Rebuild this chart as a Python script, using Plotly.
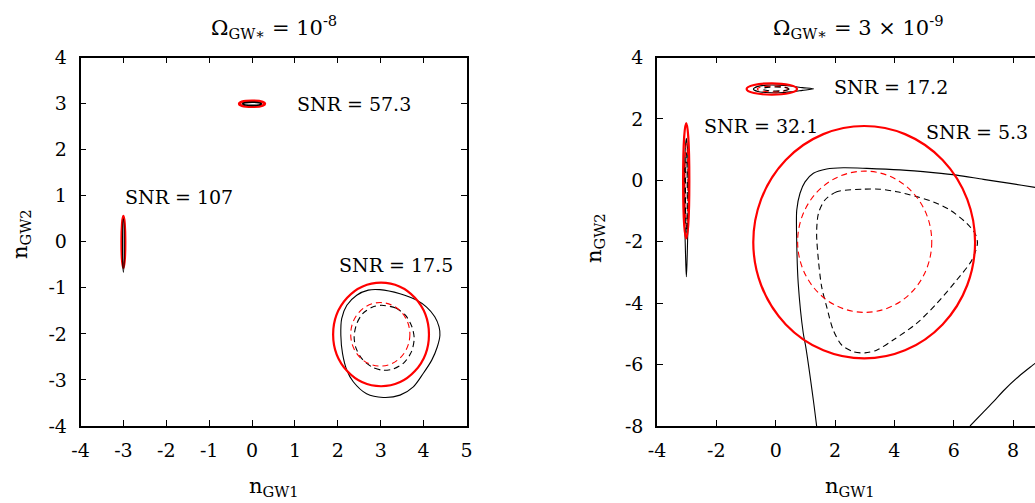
import plotly.graph_objects as go

FONT = "DejaVu Serif"
FS = 19
FS_TITLE = 21
RED = "#ff0000"
BLACK = "#000000"

# ---------------- left panel: Omega_GW* = 1e-8 ----------------
# elliptical contours, bounding boxes [x0, x1, y0, y1]
l_a_red = [-3.045, -2.955, -0.57, 0.56]
l_a_black = [-3.02, -2.98, -0.66, 0.50]
l_b_red = [-0.30, 0.30, 2.93, 3.06]
l_b_black = [-0.22, 0.22, 2.96, 3.03]
l_c_red = [1.89, 4.125, -3.137, -0.887]
l_c_red_dash = [2.30, 3.68, -2.70, -1.32]

# traced contours
l_c_black_x = [2.98, 3.45, 3.82, 4.07, 4.26, 4.36, 4.38, 4.32, 4.19, 3.99, 3.76, 3.45,
               3.06, 2.67, 2.36, 2.21, 2.11, 2.07, 2.09, 2.21, 2.44, 2.71, 2.98]
l_c_black_y = [-1.04, -1.13, -1.26, -1.42, -1.63, -1.85, -2.03, -2.28, -2.57, -2.86, -3.15, -3.33,
               -3.38, -3.30, -3.04, -2.79, -2.43, -2.03, -1.67, -1.38, -1.16, -1.05, -1.04]
l_c_black_dash_x = [3.02, 3.35, 3.58, 3.73, 3.78, 3.72, 3.55, 3.30, 3.05, 2.80, 2.57, 2.42,
                    2.38, 2.44, 2.58, 2.80, 3.02]
l_c_black_dash_y = [-1.38, -1.44, -1.60, -1.85, -2.10, -2.38, -2.62, -2.76, -2.79, -2.72, -2.55, -2.30,
                    -2.05, -1.78, -1.56, -1.42, -1.38]

l_snr_x = [1.0, -3.0, 1.97]
l_snr_y = [3.0, 0.98, -0.51]
l_snr_text = ["SNR = 57.3", "SNR = 107", "SNR = 17.5"]

l_xticks = [-4, -3, -2, -1, 0, 1, 2, 3, 4, 5]
l_yticks = [-4, -3, -2, -1, 0, 1, 2, 3, 4]

# ---------------- right panel: Omega_GW* = 3e-9 ----------------
r_d_red = [-3.12, -2.91, -1.89, 1.86]
r_d_red_dash = [-3.06, -2.96, -1.50, 1.20]
r_d_black_dash = [-3.04, -2.98, -1.72, 0.90]
r_e_red = [-0.98, 0.72, 2.79, 3.16]
r_e_red_dash = [-0.62, 0.42, 2.88, 3.07]
r_e_black_dash = [-0.45, 0.45, 2.91, 3.04]
r_f_red = [-0.755, 6.72, -5.80, 1.77]
r_f_red_dash = [0.74, 5.26, -4.30, 0.30]

r_d_black_x = [-3.01, -2.97, -2.95, -2.94, -2.95, -2.97, -2.99, -3.01, -3.03, -3.05, -3.07, -3.08,
               -3.07, -3.05, -3.01]
r_d_black_y = [1.37, 1.00, 0.40, -0.40, -1.20, -2.00, -2.70, -3.14, -2.70, -2.00, -1.20, -0.40,
               0.40, 1.00, 1.37]
r_e_black_x = [-0.75, -0.60, -0.30, 0.10, 0.50, 0.90, 1.28, 0.90, 0.50, 0.10, -0.30, -0.60, -0.75]
r_e_black_y = [2.97, 3.06, 3.10, 3.10, 3.07, 3.02, 2.98, 2.93, 2.88, 2.85, 2.86, 2.89, 2.97]

r_f_black_dash_x = [2.95, 2.06, 1.66, 1.44, 1.38, 1.44, 1.55, 1.72, 1.94, 2.23, 2.62, 3.01, 3.40,
                    3.96, 4.75, 5.43, 6.10, 6.61, 6.80, 6.72, 6.44, 5.88, 5.31, 4.75, 4.08, 3.52, 2.95]
r_f_black_dash_y = [-0.29, -0.37, -0.64, -1.08, -1.73, -2.60, -3.47, -4.12, -4.88, -5.37, -5.58, -5.62, -5.53,
                    -5.20, -4.66, -4.01, -3.25, -2.60, -2.05, -1.73, -1.40, -0.97, -0.70, -0.53, -0.37, -0.29, -0.29]

r_f_black_x = [1.38, 1.27, 1.01, 0.93, 0.76, 0.71, 0.71, 0.82, 0.99, 1.27, 1.72, 2.28, 3.07, 4.19,
               5.31, 6.10, 7.00, 7.90, 8.74, 9.20]
r_f_black_y = [-8.00, -7.16, -5.40, -4.98, -3.36, -2.05, -0.97, -0.42, -0.05, 0.23, 0.37, 0.41, 0.39, 0.34,
               0.25, 0.17, 0.03, -0.10, -0.23, -0.30]
r_g_black_x = [6.55, 7.00, 7.39, 7.67, 8.20, 8.74, 9.00]
r_g_black_y = [-8.00, -7.55, -7.16, -6.86, -6.38, -5.96, -5.75]

r_snr_x = [-2.49, 1.89, 5.0]
r_snr_y = [1.78, 3.05, 1.56]
r_snr_text = ["SNR = 32.1", "SNR = 17.2", "SNR = 5.3"]

r_xticks = [-4, -2, 0, 2, 4, 6, 8]
r_yticks = [-8, -6, -4, -2, 0, 2, 4]

fig = go.Figure()


def curve(xs, ys, color, width, dash, ax):
    fig.add_trace(go.Scatter(
        x=xs, y=ys, mode="lines", xaxis="x" + ax, yaxis="y" + ax,
        line=dict(color=color, width=width, dash=dash, shape="spline", smoothing=0.8),
        showlegend=False, hoverinfo="skip"))


def ellipse(box, color, width, dash, ax):
    fig.add_shape(type="circle", xref="x" + ax, yref="y" + ax,
                  x0=box[0], x1=box[1], y0=box[2], y1=box[3],
                  line=dict(color=color, width=width, dash=dash), layer="above")


SOLID_R, SOLID_K, DASH_W = 2.2, 1.1, 1.1
DASH_R = "6px,4px"
DASH_K = "6px,4px"

# left panel
ellipse(l_a_red, RED, SOLID_R, "solid", "")
ellipse(l_a_black, BLACK, SOLID_K, "solid", "")
ellipse(l_b_red, RED, 2.6, "solid", "")
ellipse(l_b_black, BLACK, 1.6, "solid", "")
ellipse(l_c_red, RED, SOLID_R, "solid", "")
ellipse(l_c_red_dash, RED, DASH_W, DASH_R, "")
curve(l_c_black_x, l_c_black_y, BLACK, SOLID_K, "solid", "")
curve(l_c_black_dash_x, l_c_black_dash_y, BLACK, DASH_W, DASH_K, "")

# right panel
ellipse(r_d_red, RED, SOLID_R, "solid", "2")
ellipse(r_d_red_dash, RED, DASH_W, DASH_R, "2")
ellipse(r_d_black_dash, BLACK, DASH_W, DASH_K, "2")
curve(r_d_black_x, r_d_black_y, BLACK, SOLID_K, "solid", "2")
ellipse(r_e_red, RED, SOLID_R, "solid", "2")
ellipse(r_e_red_dash, RED, DASH_W, DASH_R, "2")
ellipse(r_e_black_dash, BLACK, DASH_W, DASH_K, "2")
curve(r_e_black_x, r_e_black_y, BLACK, SOLID_K, "solid", "2")
ellipse(r_f_red, RED, SOLID_R, "solid", "2")
ellipse(r_f_red_dash, RED, DASH_W, DASH_R, "2")
curve(r_f_black_dash_x, r_f_black_dash_y, BLACK, DASH_W, DASH_K, "2")
curve(r_f_black_x, r_f_black_y, BLACK, SOLID_K, "solid", "2")
curve(r_g_black_x, r_g_black_y, BLACK, SOLID_K, "solid", "2")

W, H = 1035, 503
ydom = [1 - 426 / H, 1 - 57.5 / H]

axis_common = dict(
    showgrid=False, zeroline=False, showline=True, linecolor=BLACK, linewidth=1.5,
    ticks="inside", ticklen=6, tickwidth=1, tickcolor=BLACK, automargin=False,
    tickfont=dict(family=FONT, size=FS, color=BLACK),
)
xstand = dict(ticklabelstandoff=6)
ystand = dict(ticklabelstandoff=8)

fig.update_layout(
    width=W, height=H, margin=dict(l=0, r=0, t=0, b=0, autoexpand=False),
    paper_bgcolor="white", plot_bgcolor="white",
    xaxis=dict(axis_common, **xstand, domain=[80.5 / W, 466.5 / W], range=[-4, 5],
               tickvals=l_xticks, ticktext=[str(v) for v in l_xticks],
               mirror="ticks", anchor="y"),
    yaxis=dict(axis_common, **ystand, domain=ydom, range=[-4, 4],
               tickvals=l_yticks, ticktext=[str(v) for v in l_yticks],
               mirror="ticks", anchor="x"),
    xaxis2=dict(axis_common, **xstand, domain=[657 / W, 1.0], range=[-4, 8.74],
                tickvals=r_xticks, ticktext=[str(v) for v in r_xticks],
                mirror="ticks", anchor="y2"),
    yaxis2=dict(axis_common, **ystand, domain=ydom, range=[-8, 4],
                tickvals=r_yticks, ticktext=[str(v) for v in r_yticks],
                mirror=False, anchor="x2"),
)

ann = []
for x, y, t in zip(l_snr_x, l_snr_y, l_snr_text):
    ann.append(dict(x=x, y=y, xref="x", yref="y", text=t, showarrow=False,
                    xanchor="left", yanchor="middle", font=dict(family=FONT, size=FS, color=BLACK)))
for x, y, t in zip(r_snr_x, r_snr_y, r_snr_text):
    ann.append(dict(x=x, y=y, xref="x2", yref="y2", text=t, showarrow=False,
                    xanchor="left", yanchor="middle", font=dict(family=FONT, size=FS, color=BLACK)))

title_font = dict(family=FONT, size=FS_TITLE, color=BLACK)
ann += [
    dict(x=273.5 / W, y=1 - 27 / H, xref="paper", yref="paper", showarrow=False,
         text="Ω<sub>GW∗</sub> = 10<sup>-8</sup>", xanchor="center", yanchor="middle", font=title_font),
    dict(x=858 / W, y=1 - 27 / H, xref="paper", yref="paper", showarrow=False,
         text="Ω<sub>GW∗</sub> = 3 × 10<sup>-9</sup>", xanchor="center", yanchor="middle", font=title_font),
    dict(x=273.5 / W, y=1 - 487 / H, xref="paper", yref="paper", showarrow=False,
         text="n<sub>GW1</sub>", xanchor="center", yanchor="middle", font=title_font),
    dict(x=849.5 / W, y=1 - 487 / H, xref="paper", yref="paper", showarrow=False,
         text="n<sub>GW1</sub>", xanchor="center", yanchor="middle", font=title_font),
    dict(x=21 / W, y=1 - 234 / H, xref="paper", yref="paper", showarrow=False, textangle=-90,
         text="n<sub>GW2</sub>", xanchor="center", yanchor="middle", font=title_font),
    dict(x=595 / W, y=1 - 238 / H, xref="paper", yref="paper", showarrow=False, textangle=-90,
         text="n<sub>GW2</sub>", xanchor="center", yanchor="middle", font=title_font),
]
fig.update_layout(annotations=ann)

fig.write_html("out.html")
